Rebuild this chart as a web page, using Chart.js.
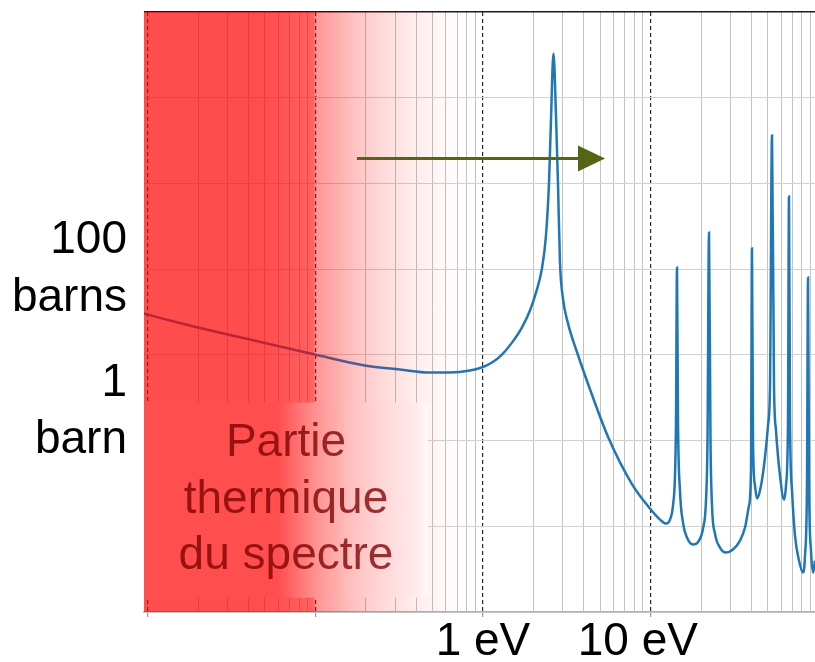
<!DOCTYPE html>
<html><head><meta charset="utf-8">
<script src="https://cdn.jsdelivr.net/npm/chart.js@4/dist/chart.umd.min.js"></script>
<style>html,body{margin:0;padding:0;background:#fff;overflow:hidden}</style>
</head><body>
<canvas id="c" width="815" height="662"></canvas>
<script>
// ---- data (energy in eV, cross-section in barns) ----
const energyEV = [0.0095,0.01357,0.01993,0.04072,0.09945,0.1976,0.3197,0.4829,0.6355,0.8364,1.000,1.1316,1.2983,1.4895,1.7063,1.9075,2.0716,2.2491,2.3763,2.4763,2.5451,2.6339,2.7264,2.8023,2.8804,3.0017,3.2157,3.6378,4.4710,5.5693,7.7450,9.9179,11.378,12.359,13.057,13.606,13.984,14.179,14.374,14.573,14.977,15.607,16.490,17.906,19.447,20.543,21.408,21.855,22.309,22.772,23.245,24.224,25.952,28.18,31.01,34.16,36.59,38.65,39.72,40.27,40.83,41.97,43.14,44.96,47.50,50.18,51.58,53.01,54.49,56.01,59.17,62.51,64.25,66.05,66.96,67.89,69.79,72.71,76.81,81.17,83.42,85.75,86.95,88.15,90.58,93.11,95.7];
const sigmaBarns = [30.34,25.13,20.83,15.09,10.08,7.50,6.74,6.22,6.22,6.56,7.21,8.13,10.08,13.89,20.8,32.9,53.3,101.6,246.7,997,5420,32800,6200,997,119.4,45.4,23.3,10.8,3.42,1.11,0.311,0.161,0.1197,0.1075,0.1197,0.1744,0.3905,1.712,104.4,1.712,0.2610,0.1105,0.0738,0.0612,0.0681,0.0940,0.1995,1.0,267.4,1.0,0.1744,0.0822,0.0564,0.0493,0.0535,0.0681,0.0966,0.1744,0.4467,174,1.0,0.2985,0.2105,0.2610,0.5108,1.496,4.383,3622,4.383,1.308,0.3905,0.2049,0.2985,1.712,703.3,1.712,0.2610,0.0779,0.0398,0.0288,0.0455,0.3415,79.8,0.3415,0.0521,0.0288,0.0398];
const xTickValues = [1, 10];
const xTickLabels = ['1 eV', '10 eV  '];
const yTickValues = [100, 1];
const yTickLabels = [['100', 'barns'], ['1', 'barn', '']];
const thermalText = ['Partie', 'thermique', 'du spectre'];

// axis ranges & annotation anchors (data units)
const X_MIN = 0.0095, X_MAX = 95.7, Y_MIN = 0.01, Y_MAX = 1e5;
const BOX = {right: 0.47, top: 2.78, bottom: 0.0147};
const ARROW = {from: 0.177, headBase: 3.69, tip: 5.35, y: 1950};

const FONT = '"Liberation Sans", Arial, Helvetica, sans-serif';
const near = (a, b) => Math.abs(a - b) <= 1e-9 * Math.max(Math.abs(a), Math.abs(b));
const isDecade = v => { const l = Math.log10(v); return Math.abs(l - Math.round(l)) < 1e-6; };

const thermalPlugin = {
  id: 'thermal',
  afterDatasetsDraw(chart) {
    const {ctx, chartArea: a, scales: {x, y}} = chart;
    const px = E => x.getPixelForValue(E);
    const frac = E => Math.min(1, Math.max(0, (px(E) - a.left) / a.width));
    ctx.save();
    ctx.beginPath(); ctx.rect(a.left, a.top, a.width, a.height); ctx.clip();
    // translucent red overlay over the thermal region
    const g = ctx.createLinearGradient(a.left, 0, a.right, 0);
    [[X_MIN, .70], [0.04, .70], [0.06, .68], [0.098, .61], [0.1005, .42], [0.16, .26], [0.25, .15], [0.4, .07], [0.6, .025], [0.8, 0]]
      .forEach(([E, al]) => g.addColorStop(frac(E), `rgba(255,0,0,${al})`));
    ctx.fillStyle = g;
    ctx.fillRect(a.left, a.top, a.width, a.height);
    // text box
    const bx0 = a.left, bx1 = px(BOX.right), by0 = y.getPixelForValue(BOX.top), by1 = y.getPixelForValue(BOX.bottom);
    const g2 = ctx.createLinearGradient(bx0, 0, bx1, 0);
    const f2 = E => Math.min(1, Math.max(0, (px(E) - bx0) / (bx1 - bx0)));
    [[X_MIN, 'rgb(255,78,78)'], [0.06, 'rgb(255,78,78)'], [0.1, 'rgb(255,145,145)'], [0.16, 'rgb(255,190,190)'], [0.25, 'rgb(255,215,215)'], [0.41, 'rgb(255,235,235)'], [BOX.right, 'rgb(255,250,250)']]
      .forEach(([E, c]) => g2.addColorStop(f2(E), c));
    ctx.fillStyle = g2;
    ctx.fillRect(bx0, by0, bx1 - bx0, by1 - by0);
    ctx.font = '46px ' + FONT;
    ctx.textAlign = 'center'; ctx.textBaseline = 'middle';
    ctx.fillStyle = 'rgba(125,0,0,0.78)';
    const cx = (bx0 + bx1) / 2, cy = (by0 + by1) / 2, lh = 56.5;
    thermalText.forEach((t, i) => ctx.fillText(t, cx, cy + (i - 1) * lh));
    // arrow
    const ay = y.getPixelForValue(ARROW.y);
    ctx.strokeStyle = '#546516'; ctx.fillStyle = '#546516'; ctx.lineWidth = 3;
    ctx.beginPath(); ctx.moveTo(px(ARROW.from), ay); ctx.lineTo(px(ARROW.headBase), ay); ctx.stroke();
    ctx.beginPath(); ctx.moveTo(px(ARROW.headBase), ay - 13); ctx.lineTo(px(ARROW.tip), ay); ctx.lineTo(px(ARROW.headBase), ay + 13); ctx.closePath(); ctx.fill();
    ctx.restore();
  }
};

new Chart(document.getElementById('c'), {
  type: 'line',
  data: {
    datasets: [{
      data: energyEV.map((e, i) => ({x: e, y: sigmaBarns[i]})),
      borderColor: '#1f77b4', borderWidth: 2.5, pointRadius: 0,
      cubicInterpolationMode: 'monotone', fill: false
    }]
  },
  options: {
    responsive: false, animation: false, devicePixelRatio: 1,
    layout: {padding: {top: 12, right: 0, left: 0, bottom: 0}},
    plugins: {legend: {display: false}, tooltip: {enabled: false}, title: {display: false}},
    scales: {
      x: {
        type: 'logarithmic', min: X_MIN, max: X_MAX,
        afterBuildTicks: s => {
          const t = [];
          for (let k = -2; k <= 1; k++) for (let m = 1; m <= 9; m++) {
            const v = m * Math.pow(10, k);
            if (v >= s.min && v <= s.max) t.push({value: v});
          }
          s.ticks = t;
        },
        afterFit: s => { s.height = 50; s.paddingLeft = 0; s.paddingRight = 0; },
        ticks: {
          autoSkip: false, maxRotation: 0, minRotation: 0, padding: 2, color: '#000',
          font: {family: FONT, size: 46, lineHeight: 1.0},
          callback: v => { const i = xTickValues.findIndex(t => near(t, v)); return i >= 0 ? xTickLabels[i] : ''; }
        },
        grid: {
          color: c => (c.tick && isDecade(c.tick.value)) ? '#2a2a2a' : '#c2c2c2',
          lineWidth: c => (c.tick && isDecade(c.tick.value)) ? 1.2 : 1,
          tickColor: c => (c.tick && isDecade(c.tick.value)) ? '#9a9a9a' : 'rgba(0,0,0,0)',
          tickLength: 5, drawTicks: true
        },
        border: {display: true, color: '#b4b4b4', width: 1.5,
          dash: c => (c.tick && isDecade(c.tick.value)) ? [4, 3] : []}
      },
      y: {
        type: 'logarithmic', min: Y_MIN, max: Y_MAX,
        afterBuildTicks: s => {
          const t = [];
          for (let k = -2; k <= 5; k++) t.push({value: Math.pow(10, k)});
          s.ticks = t;
        },
        afterFit: s => { s.width = 144; s.paddingTop = 0; s.paddingBottom = 0; },
        ticks: {
          autoSkip: false, padding: 17, color: '#000',
          font: {family: FONT, size: 46, lineHeight: 1.25},
          callback: v => { const i = yTickValues.findIndex(t => near(t, v)); return i >= 0 ? yTickLabels[i] : ''; }
        },
        grid: {
          color: c => (c.tick && near(c.tick.value, Y_MAX)) ? '#1a1a1a' : '#d2d2d2',
          lineWidth: c => (c.tick && near(c.tick.value, Y_MAX)) ? 1.6 : 1,
          drawTicks: false
        },
        border: {display: false}
      }
    }
  },
  plugins: [thermalPlugin]
});
</script>
</body></html>
